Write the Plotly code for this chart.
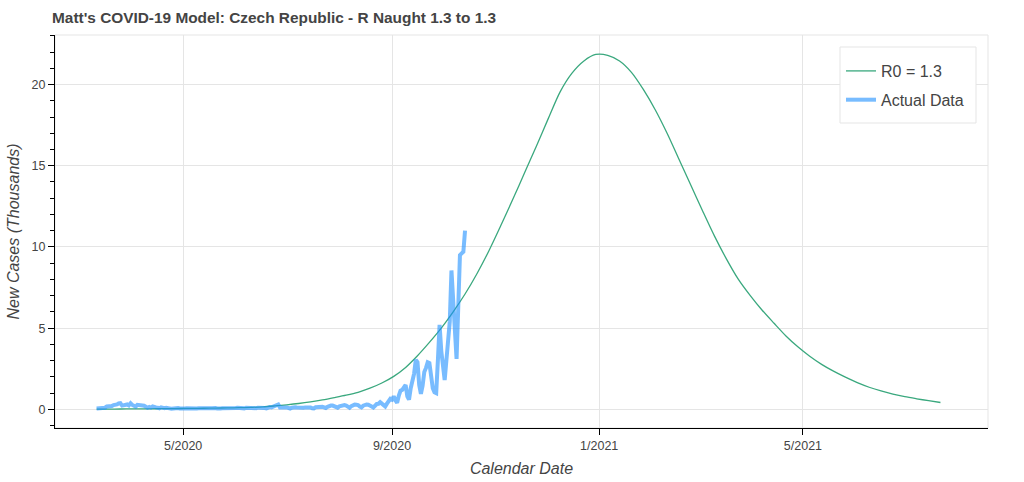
import pandas as pd
import plotly.graph_objects as go

# ---- data (thousands of new cases) ----
# model curve read weekly (Wednesdays) from 2020-03-11 to 2021-07-21
model_start = "2020-03-11"
model_values = [
    0.01, 0.015, 0.02,                       # Mar 2020
    0.025, 0.03, 0.035, 0.04, 0.05,          # Apr
    0.055, 0.065, 0.075, 0.09,               # May
    0.10, 0.12, 0.15, 0.21,                  # Jun
    0.28, 0.36, 0.46, 0.58, 0.72,            # Jul
    0.87, 1.05, 1.30, 1.62,                  # Aug
    2.03, 2.58, 3.30, 4.12, 5.00,            # Sep
    6.00, 7.10, 8.35, 9.75,                  # Oct
    11.30, 12.90, 14.55, 16.20,              # Nov
    17.90, 19.55, 20.70, 21.45, 21.85,       # Dec
    21.80, 21.45, 20.75, 19.70,              # Jan 2021
    18.45, 17.00, 15.40, 13.80,              # Feb
    12.20, 10.65, 9.25, 8.00, 7.00,          # Mar
    6.10, 5.30, 4.52, 3.85,                  # Apr
    3.27, 2.77, 2.35, 1.98,                  # May
    1.64, 1.36, 1.13, 0.94, 0.78,            # Jun
    0.65, 0.53, 0.42,                        # Jul
]

actual_start = "2020-03-11"
actual_values = [
    # Mar 11-31
    0.05, 0.05, 0.05, 0.06, 0.09, 0.10, 0.18, 0.17, 0.17, 0.20, 0.26, 0.26, 0.30, 0.36,
    0.38, 0.23, 0.26, 0.23, 0.30, 0.24, 0.37,
    # Apr
    0.27, 0.24, 0.17, 0.28, 0.26, 0.29, 0.23, 0.22, 0.16, 0.10, 0.15, 0.11, 0.18, 0.13,
    0.12, 0.10, 0.06, 0.12, 0.09, 0.07, 0.10, 0.11, 0.06, 0.04, 0.05, 0.09, 0.07, 0.08,
    0.05, 0.03,
    # May
    0.02, 0.05, 0.07, 0.06, 0.05, 0.04, 0.03, 0.02, 0.05, 0.07, 0.06, 0.05, 0.04, 0.03,
    0.02, 0.05, 0.06, 0.07, 0.10, 0.08, 0.05, 0.03, 0.05, 0.06, 0.06, 0.07, 0.06, 0.04,
    0.03, 0.05, 0.07,
    # Jun
    0.08, 0.10, 0.08, 0.04, 0.03, 0.06, 0.09, 0.09, 0.08, 0.07, 0.04, 0.03, 0.07, 0.10,
    0.11, 0.10, 0.10, 0.08, 0.06, 0.12, 0.14, 0.12, 0.17, 0.17, 0.26, 0.30, 0.12, 0.10,
    0.10, 0.12,
    # Jul
    0.12, 0.07, 0.05, 0.10, 0.13, 0.13, 0.12, 0.11, 0.07, 0.05, 0.10, 0.12, 0.13, 0.14,
    0.12, 0.07, 0.06, 0.13, 0.15, 0.17, 0.18, 0.16, 0.12, 0.08, 0.15, 0.20, 0.23, 0.23,
    0.18, 0.13, 0.10,
    # Aug
    0.18, 0.22, 0.24, 0.26, 0.23, 0.15, 0.10, 0.20, 0.28, 0.29, 0.28, 0.26, 0.17, 0.12,
    0.22, 0.29, 0.30, 0.28, 0.26, 0.18, 0.12, 0.25, 0.33, 0.34, 0.44, 0.35, 0.25, 0.18,
    0.35, 0.50, 0.65,
    # Sep
    0.60, 0.80, 0.55, 0.40, 0.85, 1.15, 1.20, 1.40, 1.50, 0.80, 0.60, 1.30, 1.80, 2.20,
    3.05, 2.90, 1.50, 0.95, 1.45, 2.30, 2.55, 2.90, 2.85, 1.80, 1.30, 1.05, 1.00, 3.00,
    5.20, 3.60,
    # Oct 1-14
    2.60, 1.80, 3.00, 4.40, 5.40, 8.55, 6.50, 4.80, 3.10, 6.30, 9.50, 9.60, 9.70, 11.0,
]

x_tick_vals = ["2020-05-01", "2020-09-01", "2021-01-01", "2021-05-01"]
x_tick_text = ["5/2020", "9/2020", "1/2021", "5/2021"]
y_tick_vals = [0, 5, 10, 15, 20]

model_dates = pd.date_range(model_start, periods=len(model_values), freq="7D")
actual_dates = pd.date_range(actual_start, periods=len(actual_values), freq="D")

TXT = "#444444"
FONT = "Liberation Sans, Arial, sans-serif"

# plot area in pixels
L, R, T, B = 55, 988, 35, 428
PW, PH = R - L, B - T


def px(xp):
    return (xp - L) / PW


def py(yp):
    return (B - yp) / PH


fig = go.Figure()
fig.add_trace(go.Scatter(
    x=model_dates, y=model_values, mode="lines", name="R0 = 1.3",
    legendgroup="a",
    line=dict(color="#3aa87e", width=1.3, shape="spline", smoothing=0.8),
))
fig.add_trace(go.Scatter(
    x=actual_dates, y=actual_values, mode="lines", name="Actual Data",
    legendgroup="b",
    line=dict(color="rgba(30,144,255,0.6)", width=4),
))

fig.update_layout(
    width=1024, height=482,
    margin=dict(l=L, r=1024 - R, t=T, b=482 - B),
    paper_bgcolor="white", plot_bgcolor="white",
    font=dict(family=FONT, color=TXT, size=12),
    title=dict(text="<b>Matt's COVID-19 Model: Czech Republic - R Naught 1.3 to 1.3</b>",
               x=52 / 1024, xanchor="left", y=1 - 18 / 482, yanchor="middle",
               font=dict(size=15.4, color=TXT, family=FONT)),
    showlegend=True,
    legend=dict(x=px(841), xanchor="left",
                y=py(54), yanchor="top",
                bgcolor="rgba(0,0,0,0)", borderwidth=0,
                font=dict(size=16, color=TXT, family=FONT),
                itemwidth=30, tracegroupgap=5),
)

fig.update_xaxes(
    range=["2020-02-15 12:00", "2021-08-18"],
    tickvals=x_tick_vals, ticktext=x_tick_text,
    showgrid=True, gridcolor="#e5e5e5", gridwidth=1,
    showline=True, linecolor="black", linewidth=1.2, mirror=False,
    ticks="outside", ticklen=6, tickcolor="black", tickwidth=1.2,
    tickfont=dict(size=12.5, color=TXT),
    zeroline=False, automargin=False,
    title=dict(text="<i>Calendar Date</i>", font=dict(size=16, color=TXT), standoff=10),
)
fig.update_yaxes(
    range=[-1.15, 23.05],
    tickvals=y_tick_vals,
    showgrid=True, gridcolor="#e5e5e5", gridwidth=1,
    showline=True, linecolor="black", linewidth=1.2,
    ticks="outside", ticklen=6, tickcolor="black", tickwidth=1.2,
    tickfont=dict(size=12.5, color=TXT),
    minor=dict(dtick=1, tick0=0, ticks="outside", ticklen=4, tickcolor="black",
               tickwidth=1, showgrid=False),
    zeroline=False, automargin=False,
    title=dict(text="<i>New Cases (Thousands)</i>", font=dict(size=16, color=TXT), standoff=7),
)

# light outline of plot frame
fig.add_shape(type="rect", xref="paper", yref="paper", x0=0, x1=1, y0=0, y1=1,
              line=dict(color="#e5e5e5", width=1), layer="below")
# legend box
fig.add_shape(type="rect", xref="paper", yref="paper",
              x0=px(840), x1=px(976), y0=py(123), y1=py(47),
              line=dict(color="#e5e5e5", width=1), fillcolor="white", layer="above")

fig.write_html("out.html")
